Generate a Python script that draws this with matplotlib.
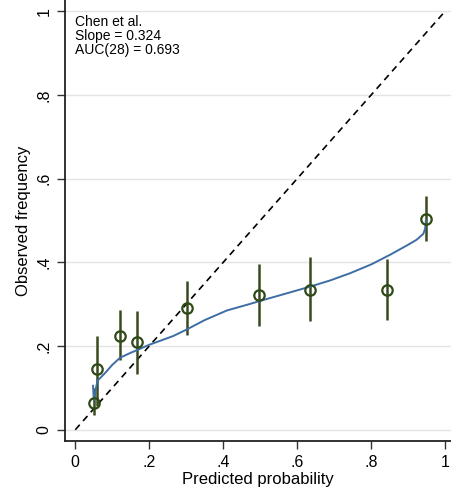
import matplotlib
matplotlib.use("Agg")
import matplotlib.pyplot as plt

plt.rcParams['font.family'] = ['Liberation Sans', 'DejaVu Sans']

# grouped observed vs predicted, with 95% CI
pred = [0.051, 0.060, 0.121, 0.168, 0.301, 0.496, 0.636, 0.843, 0.948]
obs = [0.063, 0.145, 0.225, 0.209, 0.291, 0.323, 0.335, 0.335, 0.504]
ci_lo = [0.036, 0.056, 0.167, 0.134, 0.227, 0.249, 0.260, 0.262, 0.450]
ci_hi = [0.100, 0.223, 0.287, 0.283, 0.356, 0.396, 0.412, 0.408, 0.559]

# smoothed calibration curve
curve_x = [0.048, 0.050, 0.056, 0.060, 0.08, 0.10, 0.121, 0.145, 0.166, 0.20,
           0.265, 0.30, 0.35, 0.41, 0.47, 0.52, 0.58, 0.635, 0.69, 0.743,
           0.80, 0.851, 0.90, 0.923, 0.941, 0.946, 0.948]
curve_y = [0.105, 0.070, 0.100, 0.117, 0.135, 0.155, 0.172, 0.182, 0.190, 0.203,
           0.224, 0.239, 0.262, 0.285, 0.300, 0.313, 0.328, 0.342, 0.357, 0.374,
           0.395, 0.418, 0.442, 0.454, 0.468, 0.480, 0.500]

ticks = [0, 0.2, 0.4, 0.6, 0.8, 1]
tick_labels = ['0', '.2', '.4', '.6', '.8', '1']

fig = plt.figure(figsize=(4.51, 4.96), dpi=100)
ax = fig.add_axes([0.144, 0.11, 0.856, 0.89])

green = '#2e4a16'
ax.plot([0, 1], [0, 1], color='black', lw=1.2, ls=(0, (4, 3)), zorder=2)
ax.vlines(pred, ci_lo, ci_hi, color='#3a4a1f', lw=1.8, zorder=3)
ax.plot(curve_x, curve_y, color='#3d6ea3', lw=1.4, zorder=4)
ax.plot(pred, obs, 'o', mfc='none', mec=green, mew=1.6, ms=7.5, zorder=5)

ax.set_xlim(-0.028, 1.016)
ax.set_ylim(-0.028, 1.027)
ax.set_xticks(ticks)
ax.set_xticklabels(tick_labels)
ax.set_yticks(ticks)
ax.set_yticklabels(tick_labels, rotation=90, va='center')
ax.tick_params(labelsize=11.5, length=6, width=1, color='#333333')
ax.grid(axis='y', color='#e4e4e4', lw=1)
ax.set_axisbelow(True)
for s in ['top', 'right']:
    ax.spines[s].set_visible(False)
for s in ['left', 'bottom']:
    ax.spines[s].set_linewidth(1.3)
    ax.spines[s].set_color('#222222')

ax.set_xlabel('Predicted probability', fontsize=12, labelpad=2)
ax.set_ylabel('Observed frequency', fontsize=12, labelpad=4)

ax.text(0.0, 0.99, 'Chen et al.\nSlope = 0.324\nAUC(28) = 0.693',
        fontsize=10, va='top', ha='left', linespacing=1.0)

fig.savefig('out.png', dpi=100, facecolor='white')
